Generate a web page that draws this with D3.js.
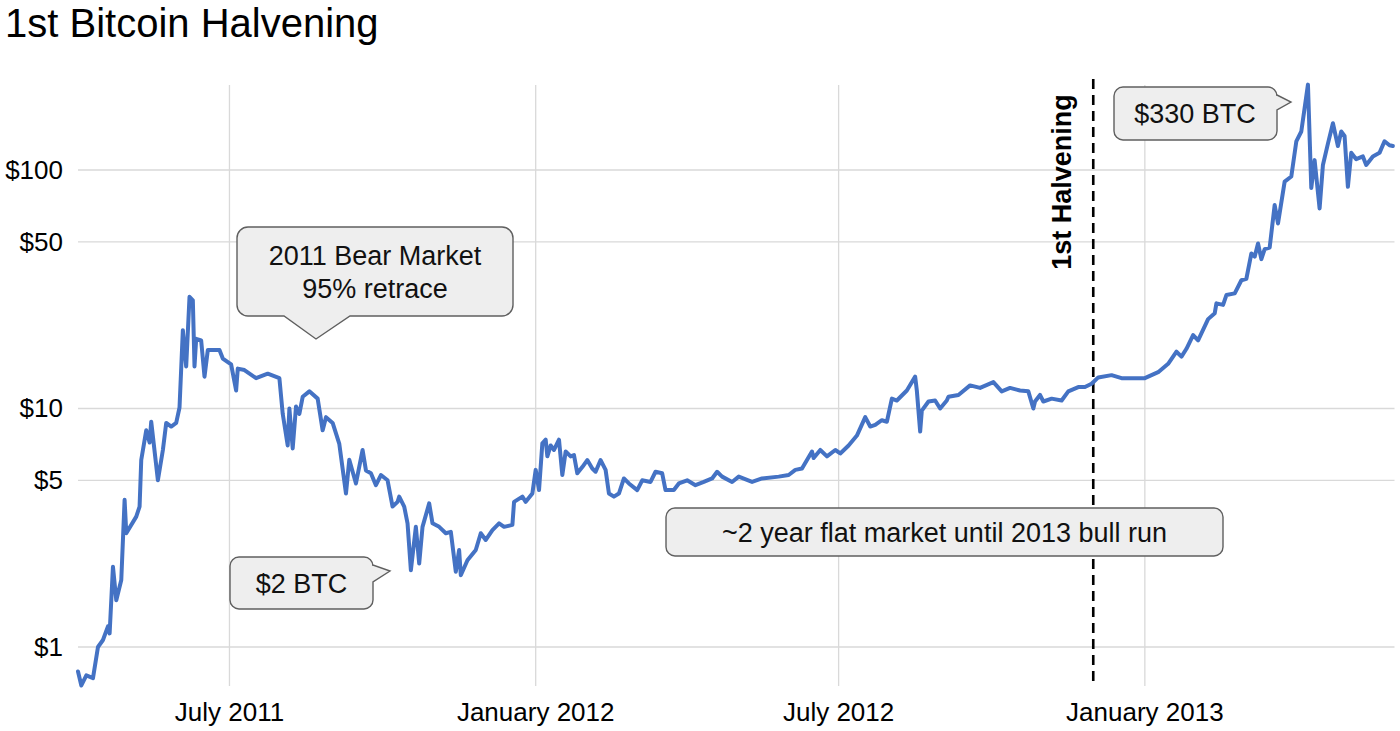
<!DOCTYPE html>
<html>
<head>
<meta charset="utf-8">
<script src="https://cdn.jsdelivr.net/npm/d3@7"></script>
<style>
  html, body { margin: 0; padding: 0; background: #fff; }
  svg { display: block; font-family: "Liberation Sans", Arial, sans-serif; }
</style>
</head>
<body>
<svg id="chart" width="1400" height="731"></svg>
<script>
// ---------------- DATA ----------------
const dates = [
  "2011-04-01","2011-04-03","2011-04-06","2011-04-10","2011-04-13","2011-04-16","2011-04-19","2011-04-20",
  "2011-04-22","2011-04-24","2011-04-27","2011-04-29","2011-04-30","2011-05-06","2011-05-08","2011-05-09",
  "2011-05-12","2011-05-14","2011-05-15","2011-05-19","2011-05-22","2011-05-24","2011-05-27","2011-05-30",
  "2011-06-01","2011-06-03","2011-06-05","2011-06-07","2011-06-09","2011-06-10","2011-06-11","2011-06-14",
  "2011-06-16","2011-06-18","2011-06-25","2011-06-27","2011-07-02","2011-07-05","2011-07-06","2011-07-10",
  "2011-07-17","2011-07-24","2011-07-31","2011-08-02","2011-08-05","2011-08-06","2011-08-08","2011-08-10",
  "2011-08-12","2011-08-14","2011-08-18","2011-08-23","2011-08-26","2011-08-28","2011-09-01","2011-09-05",
  "2011-09-09","2011-09-11","2011-09-15","2011-09-19","2011-09-21","2011-09-24","2011-09-27","2011-09-30",
  "2011-10-04","2011-10-07","2011-10-10","2011-10-11","2011-10-14","2011-10-16","2011-10-18","2011-10-21",
  "2011-10-23","2011-10-25","2011-10-29","2011-10-31","2011-11-04","2011-11-08","2011-11-11","2011-11-14",
  "2011-11-16","2011-11-17","2011-11-21","2011-11-26","2011-11-29","2011-12-02","2011-12-06","2011-12-10",
  "2011-12-13","2011-12-18","2011-12-19","2011-12-24","2011-12-26","2011-12-30","2012-01-01","2012-01-03",
  "2012-01-05","2012-01-07","2012-01-08","2012-01-10","2012-01-12","2012-01-15","2012-01-17","2012-01-19",
  "2012-01-22","2012-01-24","2012-01-26","2012-01-29","2012-02-01","2012-02-04","2012-02-06","2012-02-09",
  "2012-02-12","2012-02-14","2012-02-17","2012-02-20","2012-02-23","2012-02-26","2012-03-02","2012-03-05",
  "2012-03-10","2012-03-13","2012-03-17","2012-03-19","2012-03-24","2012-03-27","2012-04-01","2012-04-06",
  "2012-04-11","2012-04-16","2012-04-19","2012-04-22","2012-04-28","2012-05-02","2012-05-10","2012-05-16",
  "2012-05-26","2012-06-01","2012-06-05","2012-06-09","2012-06-15","2012-06-16","2012-06-20","2012-06-24",
  "2012-06-29","2012-07-02","2012-07-07","2012-07-12","2012-07-17","2012-07-20","2012-07-23","2012-07-27",
  "2012-07-30","2012-08-02","2012-08-05","2012-08-11","2012-08-16","2012-08-17","2012-08-19","2012-08-20",
  "2012-08-24","2012-08-28","2012-08-31","2012-09-04","2012-09-05","2012-09-11","2012-09-18","2012-09-24",
  "2012-10-02","2012-10-07","2012-10-12","2012-10-18","2012-10-23","2012-10-26","2012-10-27","2012-10-30",
  "2012-11-01","2012-11-06","2012-11-12","2012-11-16","2012-11-22","2012-11-26","2012-11-30","2012-12-04",
  "2012-12-12","2012-12-18","2012-12-28","2013-01-01","2013-01-09","2013-01-15","2013-01-20","2013-01-23",
  "2013-01-26","2013-01-30","2013-02-02","2013-02-08","2013-02-12","2013-02-13","2013-02-17","2013-02-19",
  "2013-02-24","2013-02-28","2013-03-03","2013-03-06","2013-03-08","2013-03-10","2013-03-12","2013-03-14",
  "2013-03-17","2013-03-20","2013-03-22","2013-03-26","2013-03-30","2013-04-02","2013-04-05","2013-04-09",
  "2013-04-11","2013-04-13","2013-04-16","2013-04-18","2013-04-21","2013-04-24","2013-04-27","2013-04-29",
  "2013-05-01","2013-05-03","2013-05-05","2013-05-08","2013-05-12","2013-05-14","2013-05-18","2013-05-22",
  "2013-05-25","2013-05-28","2013-05-30"
];
const prices = [
  0.79,0.69,0.76,0.74,1.00,1.07,1.22,1.14,
  2.17,1.57,1.91,4.14,3.00,3.52,3.88,6.08,
  8.10,7.20,8.80,5.00,6.70,8.70,8.40,8.70,
  10.1,21.3,15.0,29.4,28.4,15.0,19.6,19.3,
  13.6,17.6,17.6,16.2,15.3,11.9,14.7,14.5,
  13.4,14.0,13.4,9.5,7.0,10.0,6.8,10.2,
  9.5,11.2,11.8,11.0,8.1,9.2,8.7,7.1,
  4.4,6.1,4.85,6.7,5.5,5.35,4.77,5.26,
  5.0,3.88,4.06,4.27,3.88,3.3,2.1,3.19,
  2.24,3.19,4.0,3.3,3.19,3.0,3.04,2.07,
  2.55,2.0,2.31,2.55,3.0,2.81,3.09,3.3,
  3.19,3.25,4.06,4.27,4.06,4.4,5.53,4.55,
  7.15,7.4,6.3,7.0,6.7,7.4,5.26,6.6,
  6.3,6.38,5.35,5.68,6.08,5.6,5.43,6.08,
  5.53,4.4,4.27,4.4,5.09,4.85,4.55,5.0,
  4.92,5.43,5.35,4.55,4.55,4.85,5.0,4.77,
  4.92,5.09,5.43,5.18,4.92,5.18,4.92,5.09,
  5.18,5.26,5.53,5.6,6.6,6.2,6.7,6.3,
  6.7,6.48,7.0,7.7,9.2,8.4,8.54,8.93,
  8.8,11.0,10.8,11.9,13.6,11.9,8.0,9.8,
  10.7,10.8,10.0,10.8,11.2,11.4,12.5,12.2,
  12.9,11.8,12.2,11.9,11.8,10.0,10.7,11.4,
  10.7,11.0,10.8,11.8,12.3,12.3,12.7,13.5,
  13.8,13.4,13.4,13.4,14.2,15.4,17.3,16.5,
  17.8,20.3,19.3,23.7,25.1,27.6,27.2,29.9,
  30.4,34.5,35.0,44.7,43.3,49.2,42.3,46.6,
  47.3,71.3,59.7,89.4,93.9,131.7,145,228,
  84,110,69,105,129,157,126,145,
  139,85,118,111,114,105,114,118,
  132,127,126
];
const yTicks = [1, 5, 10, 50, 100];
const yTickLabels = ["$1", "$5", "$10", "$50", "$100"];
const xTickDates = ["2011-07-01", "2012-01-01", "2012-07-01", "2013-01-01"];
const xTickLabels = ["July 2011", "January 2012", "July 2012", "January 2013"];
const halveningDate = "2012-12-01";
const titleText = "1st Bitcoin Halvening";

// ---------------- CHART ----------------
const parse = d3.timeParse("%Y-%m-%d");
const series = dates.map((d, i) => ({ date: parse(d), price: prices[i] }));

const svg = d3.select("#chart");
const plotLeft = 78, plotRight = 1394.5, plotTop = 85, plotBottom = 686;

const x = d3.scaleTime()
  .domain([parse("2011-04-01"), parse("2013-05-31")])
  .range([plotLeft, plotRight]);
const y = d3.scaleLog().domain([1, 100]).range([647, 170]);

// title
svg.append("text")
  .attr("x", 5).attr("y", 37)
  .attr("font-size", 40).attr("fill", "#000")
  .text(titleText);

// horizontal gridlines
svg.append("g").selectAll("line").data(yTicks).join("line")
  .attr("x1", plotLeft).attr("x2", plotRight)
  .attr("y1", d => y(d)).attr("y2", d => y(d))
  .attr("stroke", "#d9d9d9").attr("stroke-width", 1.3);

// vertical gridlines
svg.append("g").selectAll("line").data(xTickDates).join("line")
  .attr("x1", d => x(parse(d))).attr("x2", d => x(parse(d)))
  .attr("y1", plotTop).attr("y2", plotBottom)
  .attr("stroke", "#d9d9d9").attr("stroke-width", 1.3);

// y labels
svg.append("g").selectAll("text").data(yTicks).join("text")
  .attr("x", 63).attr("y", d => y(d) + 8.8)
  .attr("text-anchor", "end").attr("font-size", 26).attr("fill", "#000")
  .text((d, i) => yTickLabels[i]);

// x labels
svg.append("g").selectAll("text").data(xTickDates).join("text")
  .attr("x", d => x(parse(d))).attr("y", 721)
  .attr("text-anchor", "middle").attr("font-size", 26).attr("fill", "#000")
  .text((d, i) => xTickLabels[i]);

// halvening dashed line
const hx = x(parse(halveningDate));
svg.append("line")
  .attr("x1", hx).attr("x2", hx).attr("y1", 79).attr("y2", 684)
  .attr("stroke", "#000").attr("stroke-width", 2.6)
  .attr("stroke-dasharray", "10,6");

svg.append("text")
  .attr("transform", `translate(${hx - 22},182) rotate(-90)`)
  .attr("text-anchor", "middle")
  .attr("font-size", 27).attr("font-weight", "bold").attr("fill", "#000")
  .text("1st Halvening");

// price line
const line = d3.line().x(d => x(d.date)).y(d => y(d.price));
svg.append("path").datum(series)
  .attr("d", line)
  .attr("fill", "none").attr("stroke", "#4472c4")
  .attr("stroke-width", 4).attr("stroke-linejoin", "round").attr("stroke-linecap", "round");

// ---------------- CALLOUTS ----------------
function calloutBottom(x0, y0, x1, y1, r, b1, b2, tx, ty) {
  return `M${x0 + r},${y0} H${x1 - r} A${r},${r} 0 0 1 ${x1},${y0 + r} V${y1 - r} A${r},${r} 0 0 1 ${x1 - r},${y1}` +
    ` H${b2} L${tx},${ty} L${b1},${y1} H${x0 + r} A${r},${r} 0 0 1 ${x0},${y1 - r} V${y0 + r} A${r},${r} 0 0 1 ${x0 + r},${y0} Z`;
}
function calloutRight(x0, y0, x1, y1, r, b1, b2, tx, ty) {
  return `M${x0 + r},${y0} H${x1 - r} A${r},${r} 0 0 1 ${x1},${y0 + r} V${b1} L${tx},${ty} L${x1},${b2}` +
    ` V${y1 - r} A${r},${r} 0 0 1 ${x1 - r},${y1} H${x0 + r} A${r},${r} 0 0 1 ${x0},${y1 - r} V${y0 + r} A${r},${r} 0 0 1 ${x0 + r},${y0} Z`;
}
function roundRect(x0, y0, x1, y1, r) {
  return `M${x0 + r},${y0} H${x1 - r} A${r},${r} 0 0 1 ${x1},${y0 + r} V${y1 - r} A${r},${r} 0 0 1 ${x1 - r},${y1}` +
    ` H${x0 + r} A${r},${r} 0 0 1 ${x0},${y1 - r} V${y0 + r} A${r},${r} 0 0 1 ${x0 + r},${y0} Z`;
}
const boxFill = "#eeeeee", boxStroke = "#5f5f5f";
function drawBox(d) {
  svg.append("path").attr("d", d)
    .attr("fill", boxFill).attr("stroke", boxStroke).attr("stroke-width", 1.4);
}
function label(txt, cx, by) {
  svg.append("text").attr("x", cx).attr("y", by)
    .attr("text-anchor", "middle").attr("font-size", 27).attr("fill", "#111")
    .text(txt);
}

// 2011 Bear Market
drawBox(calloutBottom(237, 227, 513, 316, 11, 284, 350, 316, 339));
label("2011 Bear Market", 375, 265);
label("95% retrace", 375, 298);

// $2 BTC
drawBox(calloutRight(230, 557, 373, 609, 9, 565, 582, 390, 571));
label("$2 BTC", 301.5, 593);

// ~2 year flat market
drawBox(roundRect(666, 508, 1223, 556, 9));
label("~2 year flat market until 2013 bull run", 944.5, 542);

// $330 BTC
drawBox(calloutRight(1114, 87, 1277, 140, 9, 95, 110, 1291, 102));
label("$330 BTC", 1195, 123);
</script>
</body>
</html>
